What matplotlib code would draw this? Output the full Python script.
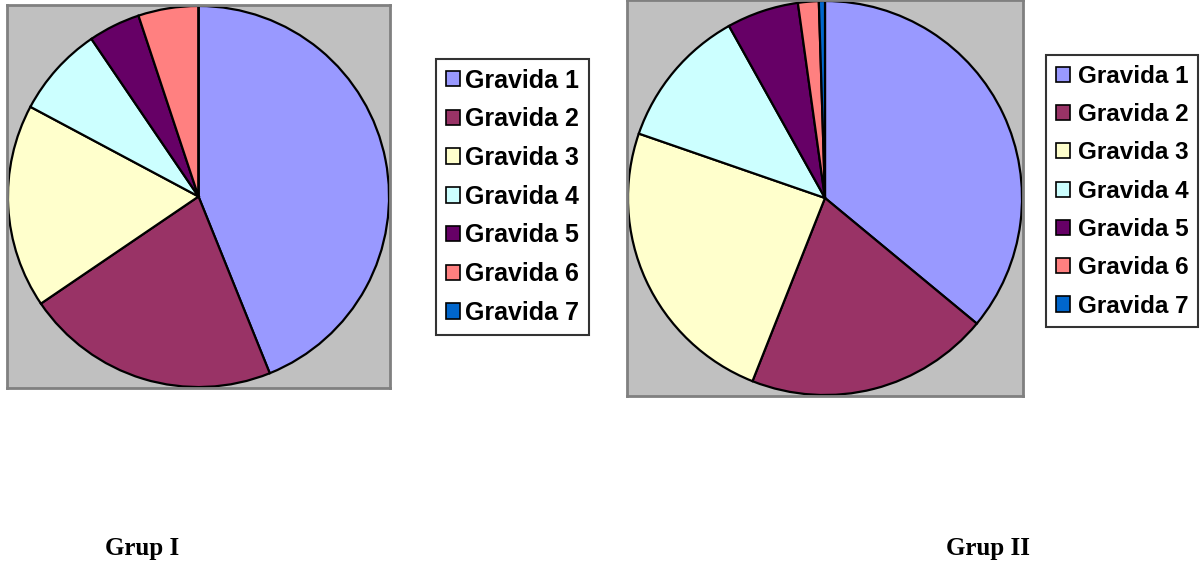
import matplotlib.pyplot as plt
from matplotlib.patches import Patch

# ---------------------------------------------------------------------------- #
# DATA (percent shares)
# ---------------------------------------------------------------------------- #
labels = ["Gravida 1", "Gravida 2", "Gravida 3", "Gravida 4",
          "Gravida 5", "Gravida 6", "Gravida 7"]
grup1 = [43.9, 21.6, 17.3, 7.7, 4.4, 5.1, 0.0]
grup2 = [36.0, 20.0, 24.3, 11.6, 5.9, 1.7, 0.5]
titles = ["Grup I", "Grup II"]

colours = ["#9999FF", "#993366", "#FFFFCC", "#CCFFFF",
           "#660066", "#FF8080", "#0066CC"]

W, H = 1200, 567


def fig_rect(x0, y0, x1, y1):
    # pixel box (top-left origin) -> figure fraction rect
    return [x0 / W, 1 - y1 / H, (x1 - x0) / W, (y1 - y0) / H]


def draw_pie(fig, rect, values):
    ax = fig.add_axes(rect)
    ax.pie(values, colors=colours, startangle=90, counterclock=False,
           radius=0.995, frame=True,
           wedgeprops=dict(edgecolor="black", linewidth=1.6))
    ax.set_facecolor("#C0C0C0")
    ax.set_xlim(-1, 1)
    ax.set_ylim(-1, 1)
    ax.set_aspect("auto")
    ax.set_xticks([])
    ax.set_yticks([])
    for s in ax.spines.values():
        s.set_edgecolor("#808080")
        s.set_linewidth(2)
    return ax


def draw_legend(fig, x, y, size, pad, spacing, border):
    handles = [Patch(facecolor=c, edgecolor="black", linewidth=1.2)
               for c in colours]
    leg = fig.legend(handles, labels, loc="upper left",
                     bbox_to_anchor=(x / W, 1 - y / H),
                     bbox_transform=fig.transFigure,
                     prop=dict(family="Liberation Sans", weight="bold",
                               size=size),
                     fancybox=False, frameon=True, edgecolor="black",
                     borderpad=border, borderaxespad=0,
                     handlelength=0.58, handleheight=0.58,
                     handletextpad=pad, labelspacing=spacing)
    leg.get_frame().set_linewidth(1.5)
    return leg


fig = plt.figure(figsize=(W / 100, H / 100), dpi=100)

draw_pie(fig, fig_rect(7, 5, 390, 388), grup1)
draw_pie(fig, fig_rect(627, 0, 1023, 396), grup2)

draw_legend(fig, 436, 59, 18, 0.2, 0.59, 0.38)
draw_legend(fig, 1046, 55, 17.5, 0.32, 0.63, 0.4)

fig.text(142 / W, 1 - 549 / H, titles[0], ha="center", va="center",
         family="Liberation Serif", weight="bold", size=18)
fig.text(988 / W, 1 - 549 / H, titles[1], ha="center", va="center",
         family="Liberation Serif", weight="bold", size=18)

fig.savefig("out.png", dpi=100)
